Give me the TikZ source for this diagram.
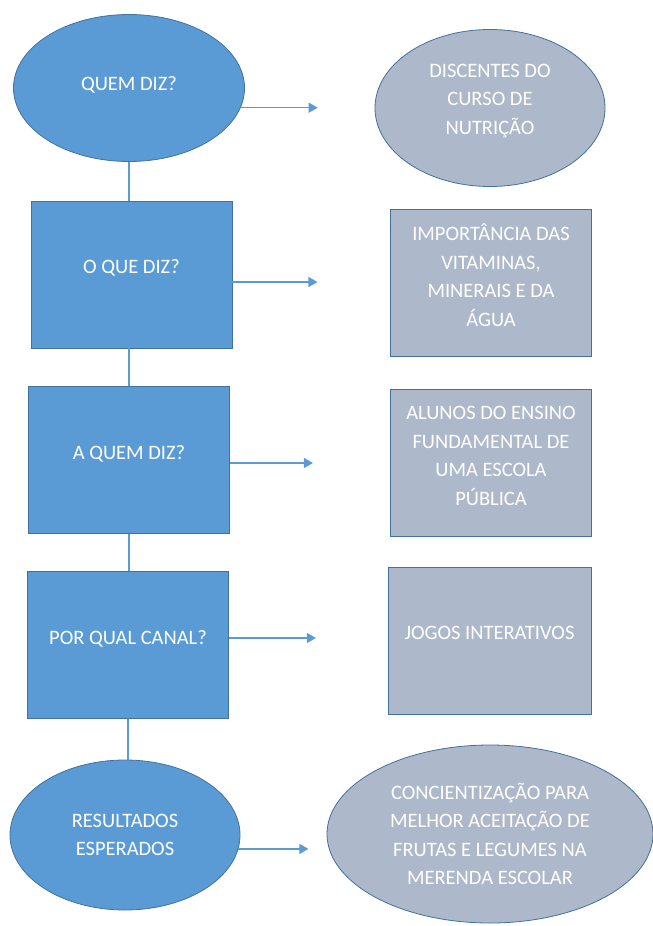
\documentclass[tikz,border=0pt]{standalone}
\usepackage{fontspec}
\setmainfont{Carlito}
\usepackage{xcolor}
\usetikzlibrary{arrows.meta,positioning,shapes.geometric}
\definecolor{ofblue}{HTML}{5B9BD5}
\definecolor{ofedge}{HTML}{41719C}
\definecolor{ofgray}{HTML}{ADB9CA}
\begin{document}
\begin{tikzpicture}[x=1pt, y=-1pt,
  oval/.style={ellipse, draw=ofedge, line width=0.8pt, fill=ofblue, text=white,
               align=center, inner sep=0pt, font=\fontsize{20.5}{28.5}\selectfont},
  box/.style={rectangle, draw=ofedge, line width=0.8pt, fill=ofblue, text=white,
              align=center, inner sep=0pt, minimum width=201pt, minimum height=147pt,
              text depth=16pt, font=\fontsize{20.5}{28.5}\selectfont},
  answer/.style={fill=ofgray},
  link/.style={draw=ofblue, line width=1.2pt},
  arr/.style={link, -{Triangle[length=9pt,width=10pt]}}
]
  \useasboundingbox (0,0) rectangle (653,926);

  % questions
  \node[oval, text depth=10pt, minimum width=231pt, minimum height=147pt] (quem) at (129,88) {QUEM DIZ?};
  \node[box] (oque) at (131.5,274.5) {O QUE DIZ?};
  \node[box] (aquem) at (129,460) {A QUEM DIZ?};
  \node[box] (canal) at (128,645) {POR QUAL CANAL?};
  \node[oval, minimum width=230pt, minimum height=150pt] (result) at (125,835) {RESULTADOS\\ESPERADOS};

  % answers
  \node[oval, answer, text depth=18pt, minimum width=230pt, minimum height=157pt] (discentes) at (490,108)
    {DISCENTES DO\\CURSO DE\\NUTRIÇÃO};
  \node[box, answer] (vitaminas) at (491,283)
    {IMPORTÂNCIA DAS\\VITAMINAS,\\MINERAIS E DA\\ÁGUA};
  \node[box, answer, text depth=14pt] (alunos) at (491,463)
    {ALUNOS DO ENSINO\\FUNDAMENTAL DE\\UMA ESCOLA\\PÚBLICA};
  \node[box, answer, minimum width=203pt] (jogos) at (489.5,640.5) {JOGOS INTERATIVOS};
  \node[oval, answer, text depth=-12pt, minimum width=326pt, minimum height=178pt] (conc) at (490,834)
    {CONCIENTIZAÇÃO PARA\\MELHOR ACEITAÇÃO DE\\FRUTAS E LEGUMES NA\\MERENDA ESCOLAR};

  % vertical links
  \draw[link] (quem.south) -- (quem.south |- oque.north);
  \draw[link] (aquem.north) -- (aquem.north |- oque.south);
  \draw[link] (aquem.south) -- (aquem.south |- canal.north);
  \draw[link] (result.north -| canal.south) -- (canal.south);

  % arrows
  \draw[arr] (quem.-10) -- ++(77,0);
  \draw[arr] ([yshift=-7.5pt]oque.east) -- ++(85,0);
  \draw[arr] ([yshift=-3pt]aquem.east) -- ++(83,0);
  \draw[arr] ([yshift=7pt]canal.east) -- ++(87,0);
  \draw[arr] (result.-7) -- ++(70,0);
\end{tikzpicture}
\end{document}
